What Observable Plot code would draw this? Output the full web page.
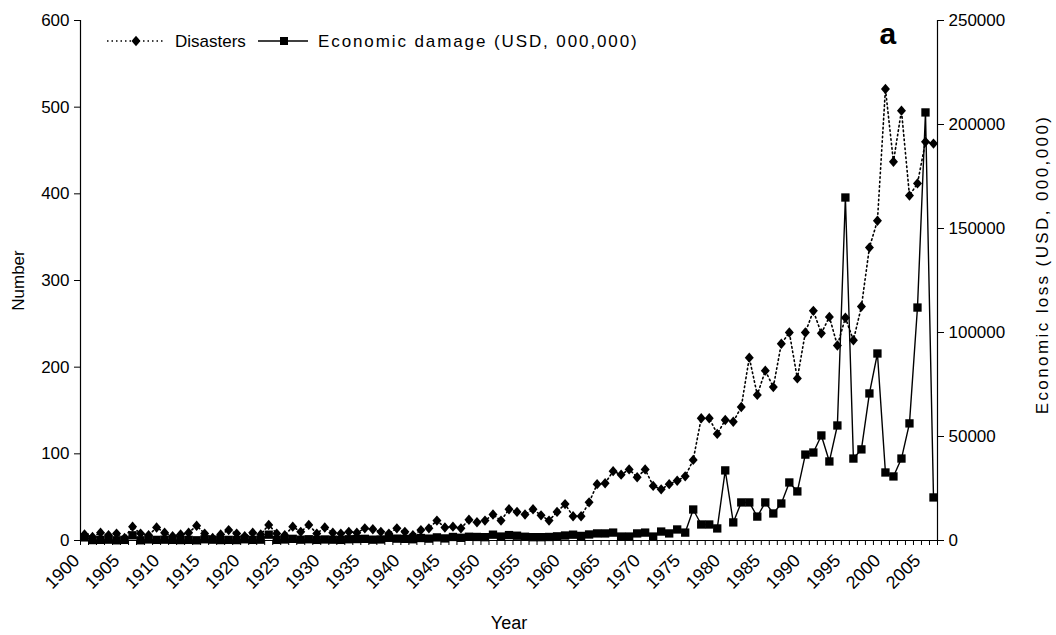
<!DOCTYPE html>
<html>
<head>
<meta charset="utf-8">
<script src="https://cdn.jsdelivr.net/npm/d3@7"></script>
<script src="https://cdn.jsdelivr.net/npm/@observablehq/plot@0.6"></script>
<style>
  html, body { margin: 0; padding: 0; background: #fff; }
  #chart { position: relative; width: 1056px; height: 635px; font-family: "Liberation Sans", Arial, sans-serif; }
  #legend { position: absolute; left: 103px; top: 29px; }
  #legend text { font-family: "Liberation Sans", Arial, sans-serif; font-size: 17px; fill: #000; }
</style>
</head>
<body>
<div id="chart"></div>
<script>
// ---- categories ----
const years = [
  1900,1901,1902,1903,1904,1905,1906,1907,1908,1909,
  1910,1911,1912,1913,1914,1915,1916,1917,1918,1919,
  1920,1921,1922,1923,1924,1925,1926,1927,1928,1929,
  1930,1931,1932,1933,1934,1935,1936,1937,1938,1939,
  1940,1941,1942,1943,1944,1945,1946,1947,1948,1949,
  1950,1951,1952,1953,1954,1955,1956,1957,1958,1959,
  1960,1961,1962,1963,1964,1965,1966,1967,1968,1969,
  1970,1971,1972,1973,1974,1975,1976,1977,1978,1979,
  1980,1981,1982,1983,1984,1985,1986,1987,1988,1989,
  1990,1991,1992,1993,1994,1995,1996,1997,1998,1999,
  2000,2001,2002,2003,2004,2005,2006
];
// ---- series: number of disasters (left axis) ----
const disasters = [
  7,4,9,6,8,3,16,8,6,15,
  9,5,7,9,17,8,3,7,12,8,
  5,9,7,18,8,6,16,10,18,8,
  15,9,8,10,9,14,13,10,8,14,
  10,6,12,14,23,15,16,14,24,21,
  23,30,23,36,33,30,36,29,23,33,
  42,28,28,44,65,66,80,76,82,73,
  82,63,59,65,69,74,93,141,141,123,
  139,137,154,211,168,196,177,227,240,187,
  240,265,239,258,225,257,231,270,338,369,
  521,437,496,398,412,460,458
];
// ---- series: economic damage, USD millions (right axis) ----
const damage = [
  1500,200,300,400,100,300,2500,100,500,300,
  400,300,200,300,100,600,400,200,300,200,
  600,300,400,2800,300,500,800,400,600,300,
  500,400,300,600,700,800,400,500,1300,900,
  800,600,1200,900,1500,1000,1700,1300,1800,1700,
  1600,2800,1900,2600,2300,1800,1600,1600,1700,2000,
  2400,2800,2200,2900,3400,3400,3800,1900,1900,3400,
  3800,1900,4300,3400,5300,3800,14900,7700,7700,5800,
  33700,8700,18300,18300,11500,18300,13000,17800,27900,23600,
  41300,42300,50500,38000,55300,164900,39400,43800,70700,89900,
  32700,30800,39400,56300,112000,205800,20700
];
// ---- tick labels ----
const leftTicks = [0,100,200,300,400,500,600];
const rightTicks = [0,50000,100000,150000,200000,250000];
const yearLabels = [1900,1905,1910,1915,1920,1925,1930,1935,1940,1945,1950,1955,1960,1965,1970,1975,1980,1985,1990,1995,2000,2005];

const leftMax = 600, rightMax = 250000;
const k = leftMax / rightMax; // secondary axis conversion

const data = years.map((y, i) => ({year: y, disasters: disasters[i], damage: damage[i]}));
const bounds = d3.range(years[0] - 0.5, years[years.length - 1] + 1, 1);

const diamond = {
  draw(ctx, size) {
    const r = Math.sqrt(size / Math.PI);
    ctx.moveTo(0, -r * 1.15);
    ctx.lineTo(r, 0);
    ctx.lineTo(0, r * 1.15);
    ctx.lineTo(-r, 0);
    ctx.closePath();
  }
};

const FS = 17;
const RIGHT_TITLE = "Economic loss (USD, 000,000)";
const plot = Plot.plot({
  width: 1056,
  height: 635,
  marginLeft: 80,
  marginRight: 119,
  marginTop: 20,
  marginBottom: 95,
  style: {fontFamily: '"Liberation Sans", Arial, sans-serif', fontSize: FS + "px", background: "#fff", color: "#000"},
  x: {domain: [years[0] - 0.5, years[years.length - 1] + 0.5]},
  y: {domain: [0, leftMax]},
  marks: [
    Plot.axisY({anchor: "left", ticks: leftTicks, tickSize: 6, tickPadding: 5, tickFormat: d => String(d),
      label: "Number", labelAnchor: "center", labelOffset: 69, labelArrow: "none", fontSize: FS}),
    Plot.axisY({anchor: "right", ticks: rightTicks.map(v => v * k), tickSize: 6, tickPadding: 5,
      tickFormat: d => String(Math.round(d / k)), label: null, fontSize: FS}),
    Plot.text([RIGHT_TITLE], {frameAnchor: "right", rotate: -90, dx: 105, dy: -16,
      lineAnchor: "middle", textAnchor: "middle", fontSize: FS}),
    Plot.axisX({ticks: bounds, tickSize: 5, tickFormat: () => "", label: "Year", labelAnchor: "center",
      labelOffset: 88, labelArrow: "none", fontSize: 18}),
    Plot.text(yearLabels, {x: d => d, text: d => String(d), frameAnchor: "bottom", dx: -8, dy: 17, rotate: -45,
      textAnchor: "end", lineAnchor: "middle", fontSize: 18}),
    Plot.text(["a"], {frameAnchor: "top-right", dx: -58, dy: 2, lineAnchor: "top", textAnchor: "start", fontSize: 30, fontWeight: "bold"}),
    Plot.ruleY([0], {stroke: "#000", strokeWidth: 1.2}),
    Plot.ruleX([years[0] - 0.5, years[years.length - 1] + 0.5], {stroke: "#000", strokeWidth: 1.2}),
    Plot.line(data, {x: "year", y: "disasters", stroke: "#000", strokeWidth: 1.6, strokeDasharray: "1.5 3"}),
    Plot.dot(data, {x: "year", y: "disasters", symbol: diamond, r: 4.5, fill: "#000", stroke: "none"}),
    Plot.line(data, {x: "year", y: d => d.damage * k, stroke: "#000", strokeWidth: 1.4}),
    Plot.dot(data, {x: "year", y: d => d.damage * k, symbol: "square", r: 4.7, fill: "#000", stroke: "none"})
  ]
});
d3.select(plot).selectAll("text").filter(function() { return this.textContent === RIGHT_TITLE; })
  .attr("letter-spacing", "2.4px");
document.getElementById("chart").appendChild(plot);

// legend (inside plot area, top-left)
const legend = d3.select("#chart").append("svg").attr("id", "legend").attr("width", 580).attr("height", 24);
legend.append("line").attr("x1", 4).attr("x2", 60).attr("y1", 12).attr("y2", 12)
  .attr("stroke", "#000").attr("stroke-width", 1.6).attr("stroke-dasharray", "1.5 3");
legend.append("path").attr("transform", "translate(33,12)")
  .attr("d", "M0,-5.2L4.5,0L0,5.2L-4.5,0Z").attr("fill", "#000");
legend.append("text").attr("x", 72).attr("y", 12).attr("dy", "0.35em").text("Disasters");
legend.append("line").attr("x1", 155).attr("x2", 205).attr("y1", 12).attr("y2", 12)
  .attr("stroke", "#000").attr("stroke-width", 1.4);
legend.append("rect").attr("x", 177).attr("y", 8).attr("width", 8).attr("height", 8).attr("fill", "#000");
legend.append("text").attr("x", 215).attr("y", 12).attr("dy", "0.35em").attr("letter-spacing", "1.9px")
  .text("Economic damage (USD, 000,000)");
</script>
</body>
</html>
